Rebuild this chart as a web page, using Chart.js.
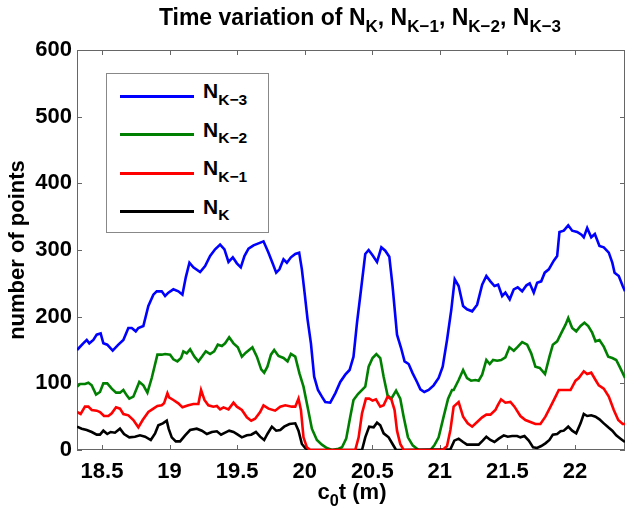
<!DOCTYPE html>
<html>
<head>
<meta charset="utf-8">
<script src="https://cdn.jsdelivr.net/npm/chart.js@4.4.1/dist/chart.umd.min.js"></script>
<style>
  html, body { margin:0; padding:0; background:#fff; }
  #wrap { position:relative; width:627px; height:509px; font-family:"Liberation Sans", Arial, sans-serif; font-weight:bold; color:#000; }
  canvas { position:absolute; left:0; top:0; }
  sub { font-size:0.74em; vertical-align:baseline; position:relative; top:0.42em; line-height:0; }
  #title { position:absolute; left:0; width:720px; top:6px; text-align:center; font-size:23px; line-height:23px; white-space:nowrap; }
  #xtitle { position:absolute; left:0; width:704px; top:481px; text-align:center; font-size:22px; line-height:22px; white-space:nowrap; }
  #legend { position:absolute; left:106px; top:73px; width:161px; height:158px; border:1px solid #888; background:#fff; }
  .row { position:absolute; left:0; height:0; }
  .ln { position:absolute; left:13px; width:74px; height:3px; top:-1.5px; }
  .lb { position:absolute; left:96px; top:-16px; font-size:21px; line-height:21px; white-space:nowrap; }
</style>
</head>
<body>
<div id="wrap">
  <canvas id="c" width="627" height="509"></canvas>
  <div id="title"></div>
  <div id="legend"></div>
  <div id="xtitle">c<sub>0</sub>t (m)</div>
</div>
<script>
// ---- data ----
const titleMain = "Time variation of ";
const seriesNames = ["N_K-3", "N_K-2", "N_K-1", "N_K"];
const seriesSubs = ["K\u22123", "K\u22122", "K\u22121", "K"];
const seriesColors = ["#0000ff", "#008000", "#ff0000", "#000000"];
const xTicks = [18.5, 19, 19.5, 20, 20.5, 21, 21.5, 22];
const yTicks = [0, 100, 200, 300, 400, 500, 600];
const xRange = [18.315, 22.37];
const yRange = [0, 600];

// N_{K-3}
const xN3 = [18.315,18.361,18.387,18.406,18.436,18.461,18.490,18.510,18.539,18.579,18.621,18.658,18.695,18.720,18.750,18.769,18.806,18.843,18.880,18.905,18.942,18.967,18.991,19.028,19.065,19.095,19.120,19.147,19.176,19.226,19.263,19.300,19.337,19.374,19.406,19.436,19.468,19.498,19.527,19.554,19.584,19.621,19.658,19.695,19.732,19.761,19.789,19.813,19.843,19.868,19.898,19.930,19.959,19.979,19.999,20.021,20.046,20.070,20.098,20.127,20.152,20.189,20.226,20.263,20.300,20.332,20.361,20.387,20.411,20.448,20.473,20.502,20.535,20.567,20.596,20.626,20.650,20.683,20.713,20.739,20.769,20.799,20.831,20.856,20.885,20.917,20.954,20.991,21.021,21.053,21.085,21.110,21.139,21.172,21.201,21.239,21.276,21.313,21.344,21.374,21.404,21.431,21.461,21.485,21.517,21.547,21.576,21.609,21.641,21.665,21.695,21.720,21.750,21.776,21.806,21.843,21.868,21.885,21.917,21.950,21.979,22.016,22.048,22.065,22.090,22.120,22.147,22.181,22.213,22.250,22.276,22.293,22.324,22.353,22.370];
const yN3 = [150,160,165,160,165,173,175,160,158,149,158,165,183,183,178,183,186,216,233,238,238,231,236,241,238,233,259,281,274,267,276,291,301,308,301,282,289,280,274,291,302,307,310,313,296,281,266,271,286,281,289,294,296,271,236,196,160,110,90,80,72,71,85,102,113,120,140,191,231,294,300,292,282,304,299,290,246,173,153,133,129,115,102,91,87,90,97,108,125,165,211,256,246,216,211,208,218,248,261,253,246,248,231,236,226,241,244,238,247,250,236,251,253,266,271,284,291,327,329,337,329,327,323,319,333,319,324,306,304,296,281,266,261,246,238];

// N_{K-2}
const xN2 = [18.315,18.337,18.374,18.399,18.424,18.456,18.485,18.510,18.539,18.572,18.604,18.633,18.658,18.683,18.702,18.732,18.752,18.776,18.806,18.836,18.868,18.910,18.942,18.967,19.004,19.028,19.058,19.085,19.102,19.127,19.152,19.184,19.213,19.239,19.268,19.300,19.330,19.357,19.387,19.411,19.441,19.473,19.505,19.535,19.564,19.613,19.646,19.678,19.700,19.724,19.750,19.774,19.806,19.843,19.873,19.898,19.930,19.961,19.991,20.021,20.053,20.090,20.127,20.164,20.201,20.250,20.276,20.307,20.337,20.361,20.394,20.448,20.473,20.502,20.530,20.559,20.584,20.613,20.641,20.676,20.707,20.732,20.764,20.799,20.843,20.930,20.959,20.991,21.028,21.061,21.090,21.102,21.139,21.172,21.201,21.231,21.263,21.287,21.313,21.344,21.369,21.394,21.424,21.453,21.485,21.515,21.547,21.572,21.609,21.646,21.676,21.707,21.739,21.778,21.811,21.836,21.868,21.900,21.930,21.950,21.979,22.009,22.041,22.070,22.098,22.127,22.152,22.181,22.213,22.246,22.276,22.305,22.330,22.354,22.370];
const yN2 = [95,99,99,101,97,83,87,100,100,92,86,86,90,82,77,80,90,102,97,86,108,143,143,144,143,136,133,138,148,145,151,140,133,140,148,144,148,158,156,160,169,160,154,140,146,154,140,121,116,125,143,150,141,138,133,144,140,115,95,65,32,15,8,3,0,2,4,17,50,75,84,95,125,138,144,138,110,82,77,89,77,50,19,7,0,0,7,19,50,77,90,90,105,120,108,104,105,104,113,135,129,135,134,135,139,154,149,154,162,158,145,125,123,114,140,158,163,176,188,198,183,178,186,191,186,176,163,165,155,140,138,135,125,115,108];

// N_{K-1}
const xN1 = [18.315,18.342,18.374,18.399,18.424,18.461,18.485,18.515,18.547,18.572,18.604,18.633,18.658,18.695,18.732,18.769,18.801,18.843,18.880,18.910,18.942,18.959,18.984,18.996,19.028,19.065,19.095,19.139,19.176,19.213,19.233,19.258,19.287,19.324,19.350,19.374,19.399,19.436,19.473,19.498,19.535,19.572,19.604,19.633,19.670,19.695,19.732,19.781,19.819,19.856,19.905,19.930,19.954,19.972,19.991,20.016,20.041,20.374,20.399,20.424,20.453,20.477,20.502,20.527,20.559,20.584,20.613,20.641,20.665,20.683,20.707,20.732,21.021,21.053,21.078,21.102,21.139,21.172,21.206,21.239,21.276,21.313,21.344,21.374,21.411,21.428,21.453,21.485,21.522,21.552,21.596,21.633,21.670,21.707,21.744,21.781,21.819,21.856,21.880,21.917,21.967,22.004,22.028,22.065,22.090,22.120,22.152,22.176,22.213,22.250,22.287,22.320,22.353,22.370];
const yN1 = [57,54,65,65,60,59,57,51,51,55,64,62,54,52,45,34,45,57,62,66,67,70,85,79,75,70,64,67,69,69,90,75,67,65,66,61,64,61,71,65,60,49,44,47,57,67,62,59,65,67,65,65,77,60,19,4,0,0,19,55,77,77,74,76,65,67,80,76,60,29,9,0,0,6,30,65,72,50,40,35,42,49,53,53,60,67,76,71,72,65,51,45,42,39,39,50,65,80,90,90,90,104,108,118,114,116,105,97,92,80,60,45,39,39];

// N_K
const xN0 = [18.315,18.350,18.387,18.424,18.461,18.485,18.510,18.539,18.564,18.596,18.633,18.663,18.702,18.744,18.781,18.819,18.861,18.893,18.917,18.950,18.979,18.993,19.016,19.046,19.078,19.115,19.152,19.201,19.239,19.276,19.313,19.350,19.381,19.411,19.441,19.473,19.505,19.535,19.572,19.604,19.639,19.670,19.700,19.724,19.757,19.789,19.819,19.848,19.887,19.930,19.954,19.979,20.004,20.026,20.424,20.448,20.477,20.510,20.535,20.559,20.584,20.621,20.650,20.676,21.078,21.107,21.139,21.172,21.201,21.287,21.317,21.344,21.374,21.404,21.436,21.473,21.502,21.535,21.572,21.596,21.626,21.658,21.690,21.720,21.750,21.781,21.811,21.836,21.868,21.893,21.917,21.950,21.979,22.009,22.041,22.065,22.090,22.120,22.152,22.181,22.213,22.246,22.276,22.305,22.337,22.370];
const yN0 = [35,32,30,27,23,23,29,24,27,26,32,24,19,20,22,20,15,25,37,40,44,32,19,13,13,22,30,32,29,24,27,28,23,26,29,27,23,19,22,23,27,20,15,24,35,29,30,35,39,40,29,9,3,0,0,19,35,34,41,37,25,19,9,0,1,14,17,12,8,8,14,20,15,12,17,22,20,21,21,19,21,14,4,3,6,10,15,23,24,28,29,35,29,25,40,54,51,52,50,46,40,34,29,22,17,12];

// ---- html text parts (title, legend) ----
document.getElementById('title').innerHTML = titleMain +
  seriesSubs.slice().reverse().map(s => 'N<sub>' + s + '</sub>').join(', ');
const legendEl = document.getElementById('legend');
const rowY = [22, 60.5, 99, 137.5];
seriesSubs.forEach((s, i) => {
  const r = document.createElement('div');
  r.className = 'row';
  r.style.top = rowY[i] + 'px';
  r.innerHTML = '<div class="ln" style="background:' + seriesColors[i] + '"></div><div class="lb">N<sub>' + s + '</sub></div>';
  legendEl.appendChild(r);
});

// ---- chart ----
const xs = [xN3, xN2, xN1, xN0];
const ys = [yN3, yN2, yN1, yN0];
const drawOrder = [3, 2, 0, 1];
const datasets = seriesNames.map((n, i) => ({
  label: n,
  data: xs[i].map((x, j) => ({ x: x, y: ys[i][j] })),
  borderColor: seriesColors[i],
  backgroundColor: seriesColors[i],
  borderWidth: 2.6,
  pointRadius: 0,
  tension: 0,
  fill: false,
  order: drawOrder[i]
}));

const framePlugin = {
  id: 'frame',
  beforeDatasetsDraw(chart) {
    const { ctx, chartArea: a, scales } = chart;
    ctx.save();
    ctx.strokeStyle = '#666666';
    ctx.lineWidth = 1;
    ctx.strokeRect(a.left + 0.5, a.top + 0.5, a.right - a.left - 1, a.bottom - a.top - 1);
    const L = 5;
    ctx.beginPath();
    scales.x.ticks.forEach(t => {
      const p = Math.round(scales.x.getPixelForValue(t.value)) + 0.5;
      ctx.moveTo(p, a.bottom); ctx.lineTo(p, a.bottom - L);
      ctx.moveTo(p, a.top); ctx.lineTo(p, a.top + L);
    });
    scales.y.ticks.forEach(t => {
      const p = Math.round(scales.y.getPixelForValue(t.value)) + 0.5;
      ctx.moveTo(a.left, p); ctx.lineTo(a.left + L, p);
      ctx.moveTo(a.right, p); ctx.lineTo(a.right - L, p);
    });
    ctx.stroke();
    ctx.restore();
  }
};

const tickFont = { family: '"Liberation Sans", Arial, sans-serif', size: 22, weight: 'bold' };

new Chart(document.getElementById('c'), {
  type: 'line',
  data: { datasets: datasets },
  options: {
    responsive: false,
    animation: false,
    devicePixelRatio: 1,
    layout: { padding: { top: 50, right: 2, left: 0, bottom: 0 } },
    plugins: { legend: { display: false }, title: { display: false }, tooltip: { enabled: false } },
    scales: {
      x: {
        type: 'linear',
        min: xRange[0], max: xRange[1],
        afterBuildTicks: s => { s.ticks = xTicks.map(v => ({ value: v })); },
        afterFit: s => { s.height = 59; },
        grid: { display: false, drawTicks: false },
        border: { display: false },
        ticks: { color: '#000', font: tickFont, padding: 9, maxRotation: 0, autoSkip: false, callback: v => String(v) }
      },
      y: {
        type: 'linear',
        min: yRange[0], max: yRange[1],
        afterBuildTicks: s => { s.ticks = yTicks.map(v => ({ value: v })); },
        afterFit: s => { s.width = 77; },
        grid: { display: false, drawTicks: false },
        border: { display: false },
        ticks: { color: '#000', font: tickFont, padding: 5, autoSkip: false, callback: v => String(v) },
        title: { display: true, text: 'number of points', color: '#000', font: { family: '"Liberation Sans", Arial, sans-serif', size: 22, weight: 'bold' }, padding: { top: 5, bottom: 0 } }
      }
    }
  },
  plugins: [framePlugin]
});
</script>
</body>
</html>
